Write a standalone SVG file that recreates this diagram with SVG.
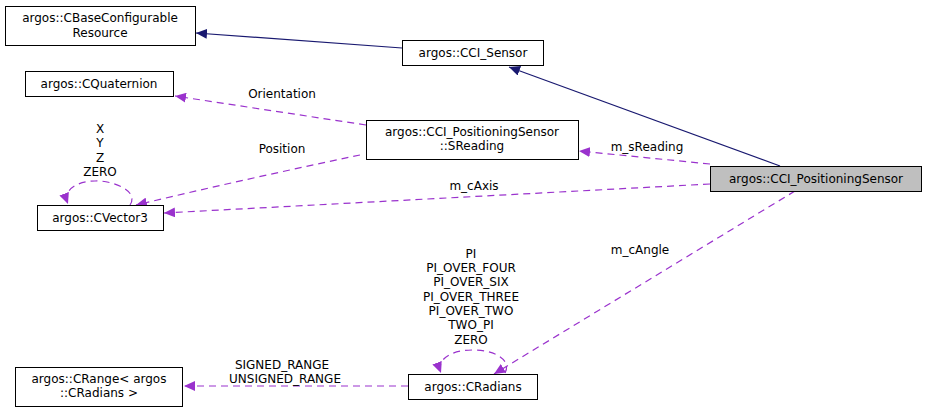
<svg xmlns="http://www.w3.org/2000/svg" width="927" height="413" viewBox="0 0 927 413">
<style>
text{font-family:"DejaVu Sans",sans-serif;font-size:12px;text-anchor:middle;fill:#000}
.n{fill:#fff;stroke:#000;stroke-width:1}
.inh{fill:none;stroke:#191970;stroke-width:1.2}
.use{fill:none;stroke:#9a32cd;stroke-width:1.2;stroke-dasharray:7,5}
</style>
<defs>
<marker id="ai" markerWidth="12" markerHeight="10" refX="11" refY="5" orient="auto" markerUnits="userSpaceOnUse"><path d="M0,0 L11,5 L0,10 z" fill="#191970"/></marker>
<marker id="au" markerWidth="12" markerHeight="10" refX="11" refY="5" orient="auto" markerUnits="userSpaceOnUse"><path d="M0,0 L11,5 L0,10 z" fill="#9a32cd"/></marker>
</defs>
<rect width="927" height="413" fill="#fff"/>
<g id="edges">
<path class="inh" d="M402,48 L196,33" marker-end="url(#ai)"/>
<path class="inh" d="M780,166 L509,67" marker-end="url(#ai)"/>
<path class="use" d="M366,125 L175,96" marker-end="url(#au)"/>
<path class="use" d="M360,155 Q250,178 136,205" marker-end="url(#au)"/>
<path class="use" d="M130,205 C140,190 110,180 95,181 C80,181 62,188 68,204" marker-end="url(#au)"/>
<path class="use" d="M710,164 L579,151" marker-end="url(#au)"/>
<path class="use" d="M710,184 L164,213" marker-end="url(#au)"/>
<path class="use" d="M795,191 L494,374" marker-end="url(#au)"/>
<path class="use" d="M505,373 C512,360 495,350 473,350 C450,350 436,360 441,373" marker-end="url(#au)"/>
<path class="use" d="M408,386 L184,386" marker-end="url(#au)"/>
<text x="282" y="98">Orientation</text>
<text x="282" y="153">Position</text>
<text x="100" y="133">X</text><text x="100" y="147">Y</text><text x="100" y="162">Z</text><text x="100" y="176">ZERO</text>
<text x="647" y="151">m_sReading</text>
<text x="474" y="190">m_cAxis</text>
<text x="640" y="254">m_cAngle</text>
<text x="471" y="258">PI</text><text x="471" y="272">PI_OVER_FOUR</text><text x="471" y="286">PI_OVER_SIX</text><text x="471" y="301">PI_OVER_THREE</text><text x="471" y="315">PI_OVER_TWO</text><text x="471" y="329">TWO_PI</text><text x="471" y="344">ZERO</text>
<text x="282" y="369">SIGNED_RANGE</text><text x="285" y="383">UNSIGNED_RANGE</text>
</g>
<g id="n_base"><rect class="n" x="5.5" y="6.5" width="190" height="39"/><text x="100" y="22">argos::CBaseConfigurable</text><text x="100" y="37">Resource</text></g>
<g id="n_sensor"><rect class="n" x="402.5" y="40.5" width="141" height="25"/><text x="473" y="57">argos::CCI_Sensor</text></g>
<g id="n_quat"><rect class="n" x="25.5" y="71.5" width="148" height="25"/><text x="99" y="88">argos::CQuaternion</text></g>
<g id="n_sreading"><rect class="n" x="366.5" y="120.5" width="212" height="39"/><text x="472" y="136">argos::CCI_PositioningSensor</text><text x="472" y="150">::SReading</text></g>
<g id="n_vec"><rect class="n" x="37.5" y="205.5" width="126" height="25"/><text x="100" y="222">argos::CVector3</text></g>
<g id="n_pos"><rect x="710.5" y="166.5" width="211" height="25" fill="#bfbfbf" stroke="#000"/><text x="816" y="183">argos::CCI_PositioningSensor</text></g>
<g id="n_range"><rect class="n" x="15.5" y="367.5" width="167" height="39"/><text x="99" y="383">argos::CRange&lt; argos</text><text x="99" y="397">::CRadians &gt;</text></g>
<g id="n_rad"><rect class="n" x="408.5" y="374.5" width="129" height="25"/><text x="473" y="391">argos::CRadians</text></g>
</svg>
